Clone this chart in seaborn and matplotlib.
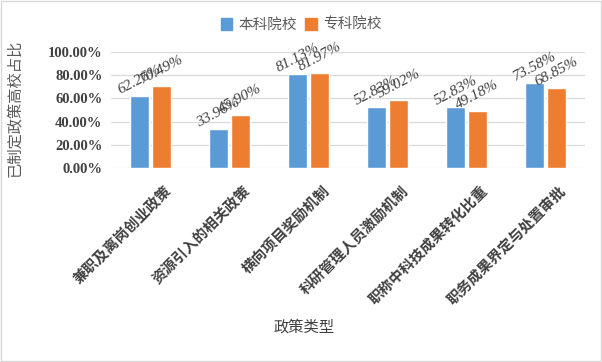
import pandas as pd
import seaborn as sns
import matplotlib.pyplot as plt
from matplotlib.patches import Rectangle
from matplotlib.transforms import ScaledTranslation

# Data
policies = ["兼职及离岗创业政策", "资源引入的相关政策", "横向项目奖励机制",
            "科研管理人员激励机制", "职称中科技成果转化比重", "职务成果界定与处置审批"]
undergrad = [62.26, 33.96, 81.13, 52.83, 52.83, 73.58]
vocational = [70.49, 45.90, 81.97, 59.02, 49.18, 68.85]
series = ["本科院校", "专科院校"]

df = pd.DataFrame({
    "policy": policies * 2,
    "value": undergrad + vocational,
    "school": [series[0]] * len(policies) + [series[1]] * len(policies),
})

sns.set_theme(style="white")
plt.rcParams['font.family'] = ['Liberation Serif', 'Noto Sans CJK SC']
plt.rcParams['axes.unicode_minus'] = False

fig = plt.figure(figsize=(6.02, 3.62), dpi=100)
ax = fig.add_axes([0.184, 0.536, 0.788, 0.32])

palette = {series[0]: "#5B9BD5", series[1]: "#ED7D31"}
sns.barplot(data=df, x="policy", y="value", hue="school", palette=palette,
            width=0.56, gap=0.15, ax=ax, saturation=1, legend=True)

ax.set_ylim(0, 100)
ax.set_yticks([0, 20, 40, 60, 80, 100])
ax.set_yticklabels([f"{v:.2f}%" for v in [0, 20, 40, 60, 80, 100]],
                   fontsize=10.5, fontweight="bold", color="#404040")
ax.yaxis.grid(True, color="#D9D9D9", linewidth=0.9)
ax.set_axisbelow(True)
for s in ax.spines.values():
    s.set_visible(False)
ax.tick_params(axis="both", length=0, pad=6)

ax.set_xticks(range(len(policies)))
ax.set_xticklabels(policies, rotation=45, ha="right", rotation_mode="anchor",
                   fontsize=10.5, fontweight="bold", color="#404040")
ax.tick_params(axis="x", pad=0)
shift = ScaledTranslation(14 / 100, -16 / 100, fig.dpi_scale_trans)
for lbl in ax.get_xticklabels():
    lbl.set_transform(lbl.get_transform() + shift)
ax.set_xlabel("")
ax.set_ylabel("")

# value labels
for cont in ax.containers:
    for bar in cont:
        h = bar.get_height()
        ax.text(bar.get_x() + bar.get_width() / 2, h + 14, f"{h:.2f}%",
                ha="center", va="center", rotation=28, fontsize=11,
                style="italic", color="#404040")

# legend
ax.legend_.remove()
handles = [Rectangle((0, 0), 1, 1, color=palette[s]) for s in series]
fig.legend(handles, series, loc="center", bbox_to_anchor=(0.5, 0.931), ncol=2,
           frameon=False, fontsize=10.5, handlelength=0.8, handleheight=0.8,
           handletextpad=0.4, columnspacing=0.6,
           labelcolor="#595959")

fig.text(0.025, 0.70, "已制定政策高校占比", rotation=90, ha="center", va="center",
         fontsize=11, color="#595959")
fig.text(0.505, 0.097, "政策类型", ha="center", va="center",
         fontsize=11, color="#404040")

fig.patches.append(Rectangle((0.002, 0.003), 0.996, 0.994, transform=fig.transFigure,
                             fill=False, edgecolor="#D9D9D9", linewidth=1))

fig.savefig("out.png", dpi=100)
